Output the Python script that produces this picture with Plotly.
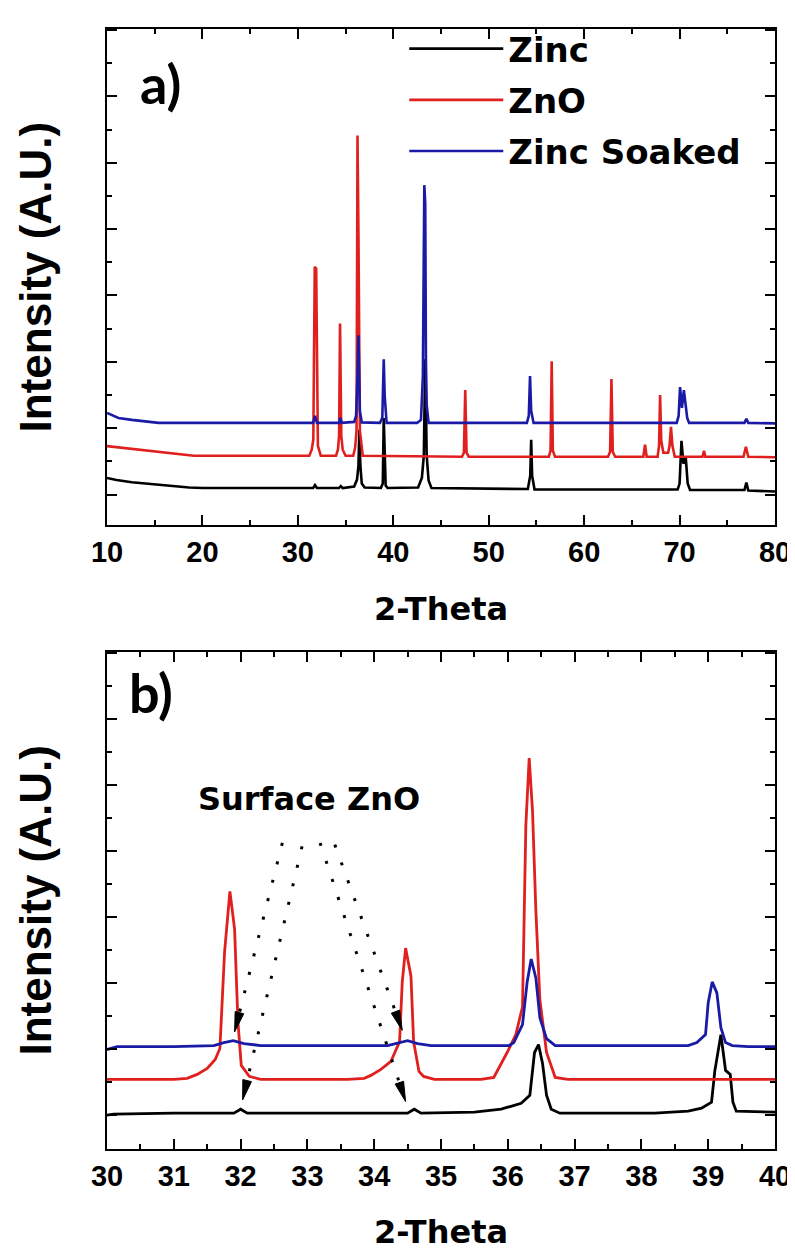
import math
import plotly.graph_objects as go

# ---------------- data ----------------
SERIES = ["Zinc", "ZnO", "Zinc Soaked"]
COLORS = ["#000000", "#e0201e", "#1a1aa6"]

# Panel a) full scan 10-80 deg
ZINC_A_X = [10.0, 11.0, 12.6, 14.9, 18.6, 20.0, 31.6, 31.8, 32.0, 34.3, 34.5, 34.7,
            35.9, 36.2, 36.35, 36.45, 36.55, 36.7, 37.0, 38.7, 38.9, 39.0, 39.1, 39.2,
            39.4, 42.6, 43.0, 43.2, 43.35, 43.5, 43.7, 44.0, 54.1, 54.35, 54.45, 54.55,
            54.8, 69.8, 70.0, 70.2, 70.4, 70.65, 70.85, 71.1, 76.8, 77.0, 77.2, 80.0]
ZINC_A_Y = [47.7, 45.5, 43.3, 41.0, 38.0, 37.6, 37.6, 40.5, 37.6, 37.5, 39.5, 37.5,
            39.0, 46.0, 60.0, 96.0, 60.0, 42.0, 38.0, 37.5, 42.0, 108.0, 60.0, 40.0,
            37.5, 38.0, 48.0, 70.0, 167.0, 70.0, 45.0, 37.5, 36.5, 50.0, 86.0, 50.0,
            36.0, 36.0, 42.0, 85.0, 62.0, 68.0, 42.0, 35.5, 35.5, 43.0, 35.0, 34.0]

ZNO_A_X = [10.0, 12.6, 16.3, 19.1, 31.2, 31.45, 31.62, 31.77, 31.92, 32.1, 32.4,
           34.0, 34.2, 34.32, 34.42, 34.55, 34.7, 35.0, 35.8, 36.0, 36.15, 36.25,
           36.35, 36.5, 36.8, 47.2, 47.4, 47.54, 47.68, 47.9, 56.3, 56.48, 56.6,
           56.72, 56.95, 62.5, 62.72, 62.86, 63.0, 63.25, 66.2, 66.38, 66.55, 67.7,
           67.85, 67.96, 68.08, 68.3, 68.8, 68.95, 69.1, 69.25, 69.5, 72.4, 72.56,
           72.7, 76.7, 76.95, 77.2, 80.0]
ZNO_A_Y = [79.7, 77.0, 73.0, 70.0, 70.0, 76.0, 86.0, 260.0, 258.0, 80.0, 70.0,
           70.0, 76.0, 90.0, 203.0, 90.0, 76.0, 70.0, 70.0, 78.0, 95.0, 392.0,
           293.0, 95.0, 70.0, 69.0, 73.0, 136.0, 73.0, 69.0, 69.0, 75.0, 165.0,
           75.0, 69.0, 69.0, 74.0, 147.0, 74.0, 69.0, 69.0, 81.0, 69.0, 69.0,
           80.0, 131.0, 85.0, 73.0, 73.0, 80.0, 99.0, 80.0, 69.0, 69.0, 75.0,
           69.0, 69.0, 79.0, 69.0, 68.5]

SOAK_A_X = [10.0, 11.2, 12.6, 15.4, 31.6, 31.8, 32.0, 34.3, 34.45, 34.6, 35.9, 36.1,
            36.25, 36.35, 36.5, 36.7, 38.6, 38.85, 39.0, 39.1, 39.3, 42.5, 42.9, 43.1,
            43.25, 43.35, 43.42, 43.5, 43.7, 54.0, 54.2, 54.33, 54.45, 54.7, 69.7,
            69.9, 70.05, 70.25, 70.45, 70.6, 70.8, 71.0, 76.8, 77.0, 77.2, 80.0]
SOAK_A_Y = [113.0, 108.0, 106.0, 103.0, 103.0, 110.0, 103.0, 103.0, 108.0, 103.0, 104.0, 110.0,
            150.0, 191.0, 115.0, 103.5, 103.0, 108.0, 167.0, 130.0, 103.0, 103.0, 106.0, 150.0,
            342.0, 324.0, 167.0, 121.0, 103.0, 103.0, 110.0, 150.0, 115.0, 103.0, 103.0,
            110.0, 139.0, 118.0, 136.0, 125.0, 108.0, 103.0, 103.0, 107.0, 103.0, 102.5]

# Panel b) zoom 30-40 deg
ZINC_B_X = [30.0, 30.1, 31.0, 31.9, 32.0, 32.1, 33.0, 34.5, 34.6, 34.7, 35.5, 35.9,
            36.2, 36.33, 36.4, 36.46, 36.52, 36.58, 36.65, 36.78, 38.2, 38.7, 38.9,
            39.05, 39.1, 39.19, 39.26, 39.33, 39.37, 39.42, 40.0]
ZINC_B_Y = [34, 35, 36, 36, 40, 36, 36, 36, 40, 36, 37, 40,
            46, 54, 97, 105, 86, 54, 40, 36, 36, 38, 41,
            47, 79, 115, 79, 75, 47, 38, 37]

ZNO_B_X = [30.0, 31.0, 31.2, 31.35, 31.5, 31.62, 31.69, 31.76, 31.84, 31.91, 31.96,
           32.01, 32.13, 32.3, 33.6, 33.85, 33.95, 34.1, 34.25, 34.38, 34.42, 34.47,
           34.55, 34.59, 34.67, 34.74, 34.9, 35.6, 35.79, 35.99, 36.12, 36.22, 36.27,
           36.32, 36.37, 36.42, 36.48, 36.58, 36.71, 36.9, 40.0]
ZNO_B_Y = [70, 70, 71, 75, 81, 90, 101, 198, 259, 221, 128,
           84, 73, 70, 70, 71, 74, 80, 88, 108, 168, 202,
           174, 108, 78, 73, 70, 70, 72, 97, 115, 143, 325,
           393, 340, 240, 150, 97, 72, 70, 70]

SOAK_B_X = [30.0, 30.15, 31.0, 31.6, 31.75, 31.89, 32.05, 32.3, 34.2, 34.4, 34.5,
            34.65, 34.85, 35.9, 36.02, 36.09, 36.22, 36.29, 36.35, 36.42, 36.48, 36.58,
            36.71, 36.9, 38.6, 38.7, 38.83, 38.96, 39.0, 39.06, 39.13, 39.19, 39.26,
            39.36, 39.6, 40.0]
SOAK_B_Y = [100, 103, 103, 104, 107, 109, 106, 104, 104, 107, 109,
            106, 104, 104, 104, 107, 125, 168, 191, 172, 132, 111,
            104, 104, 104, 104, 107, 115, 147, 168, 157, 122, 107,
            104, 103, 103]

# "Surface ZnO" dotted arrows in panel b: (x_start, y_start, x_tip, y_tip)
ARROWS_B = [(32.625, 307.7, 31.91, 117.7),
            (32.92, 304.3, 32.03, 49.3),
            (33.19, 307.7, 34.47, 47.7),
            (33.41, 306.0, 34.42, 119.3)]

XTICKS_A = [10, 20, 30, 40, 50, 60, 70, 80]
XTICKS_B = [30, 31, 32, 33, 34, 35, 36, 37, 38, 39, 40]
XRANGE_A = [10, 80]
XRANGE_B = [30, 40]
YRANGE_A = [0, 499]
YRANGE_B = [0, 500]

# ---------------- figure ----------------
W, H = 795, 1249
ML, MR, MT, MB = 99, 19, 15, 108
plot_w = W - ML - MR
plot_h = H - MT - MB
dom_a = [(1141 - 514) / plot_h, 1.0]
dom_b = [0.0, 500 / plot_h]

fig = go.Figure()
data_a = [(ZINC_A_X, ZINC_A_Y), (ZNO_A_X, ZNO_A_Y), (SOAK_A_X, SOAK_A_Y)]
data_b = [(ZINC_B_X, ZINC_B_Y), (ZNO_B_X, ZNO_B_Y), (SOAK_B_X, SOAK_B_Y)]
for i, (name, col) in enumerate(zip(SERIES, COLORS)):
    fig.add_trace(go.Scatter(x=data_a[i][0], y=data_a[i][1], mode="lines", name=name,
                             line=dict(color=col, width=2.6), legendgroup=name,
                             xaxis="x", yaxis="y"))
for i, (name, col) in enumerate(zip(SERIES, COLORS)):
    fig.add_trace(go.Scatter(x=data_b[i][0], y=data_b[i][1], mode="lines", name=name,
                             line=dict(color=col, width=2.8), legendgroup=name,
                             showlegend=False, xaxis="x2", yaxis="y2"))

tickfont = dict(family="Liberation Sans", size=29, color="black", weight="bold")
xtitlefont = dict(family="DejaVu Sans", size=32, color="black", weight="bold")
ytitlefont = dict(family="Liberation Sans", size=44, color="black", weight="bold")

common_x = dict(showline=True, linecolor="black", linewidth=2, mirror="ticks",
                ticks="inside", ticklen=10, tickwidth=2, tickcolor="black",
                showgrid=False, zeroline=False, tickfont=tickfont,
                minor=dict(ticks="inside", ticklen=5, tickwidth=2, tickcolor="black",
                           showgrid=False))
common_y = dict(showline=True, linecolor="black", linewidth=2, mirror="ticks",
                ticks="inside", ticklen=10, tickwidth=2, tickcolor="black",
                showgrid=False, zeroline=False, showticklabels=False,
                minor=dict(ticks="inside", ticklen=5, tickwidth=2, tickcolor="black",
                           showgrid=False))

fig.update_layout(
    width=W, height=H, margin=dict(l=ML, r=MR, t=MT, b=MB),
    paper_bgcolor="white", plot_bgcolor="white",
    xaxis=dict(common_x, domain=[0, 1], anchor="y", range=XRANGE_A,
               tickvals=XTICKS_A, minor_dtick=5, minor_tick0=10,
               title=dict(text="2-Theta", font=xtitlefont, standoff=30)),
    yaxis=dict(common_y, domain=dom_a, anchor="x", range=YRANGE_A,
               tick0=31, dtick=66.7, minor_dtick=33.35, minor_tick0=31,
               title=dict(text="Intensity (A.U.)", font=ytitlefont, standoff=40)),
    xaxis2=dict(common_x, domain=[0, 1], anchor="y2", range=XRANGE_B,
                tickvals=XTICKS_B, minor_dtick=0.5, minor_tick0=30,
                title=dict(text="2-Theta", font=xtitlefont, standoff=30)),
    yaxis2=dict(common_y, domain=dom_b, anchor="x2", range=YRANGE_B,
                tick0=34, dtick=66.4, minor_dtick=33.2, minor_tick0=34,
                title=dict(text="Intensity (A.U.)", font=ytitlefont, standoff=40)),
    legend=dict(x=0.445, y=1.008, xanchor="left", yanchor="top",
                font=dict(family="DejaVu Sans", size=34, color="black", weight="bold"),
                bgcolor="rgba(0,0,0,0)", itemwidth=94, tracegroupgap=4),
    showlegend=True,
)

# panel labels
fig.add_annotation(text="a)", x=15.6, y=444, xref="x", yref="y", showarrow=False,
                   font=dict(family="Lato", size=54, color="black", weight="bold"))
fig.add_annotation(text="b)", x=30.66, y=459, xref="x2", yref="y2", showarrow=False,
                   font=dict(family="Lato", size=54, color="black", weight="bold"))
fig.add_annotation(text="Surface ZnO", x=33.02, y=352, xref="x2", yref="y2", showarrow=False,
                   font=dict(family="DejaVu Sans", size=32, color="black", weight="bold"))

# dotted arrows with slim arrowheads (head geometry computed in pixel space)
px_per_x = plot_w / (XRANGE_B[1] - XRANGE_B[0])
px_per_y = (dom_b[1] - dom_b[0]) * plot_h / (YRANGE_B[1] - YRANGE_B[0])
HEAD_LEN, HEAD_HALF_W = 20.0, 4.5
for (x0, y0, x1, y1) in ARROWS_B:
    dxp = (x0 - x1) * px_per_x
    dyp = (y0 - y1) * px_per_y
    L = math.hypot(dxp, dyp)
    ux, uy = dxp / L, dyp / L
    bx, by = x1 + ux * HEAD_LEN / px_per_x, y1 + uy * HEAD_LEN / px_per_y
    c1x = bx + (-uy) * HEAD_HALF_W / px_per_x
    c1y = by + ux * HEAD_HALF_W / px_per_y
    c2x = bx - (-uy) * HEAD_HALF_W / px_per_x
    c2y = by - ux * HEAD_HALF_W / px_per_y
    fig.add_shape(type="line", x0=x0, y0=y0, x1=bx, y1=by, xref="x2", yref="y2",
                  line=dict(color="black", width=3, dash="3px,16px"))
    fig.add_shape(type="path", xref="x2", yref="y2",
                  path=f"M {x1},{y1} L {c1x},{c1y} L {c2x},{c2y} Z",
                  fillcolor="black", line=dict(color="black", width=1))

fig.write_html("out.html")
